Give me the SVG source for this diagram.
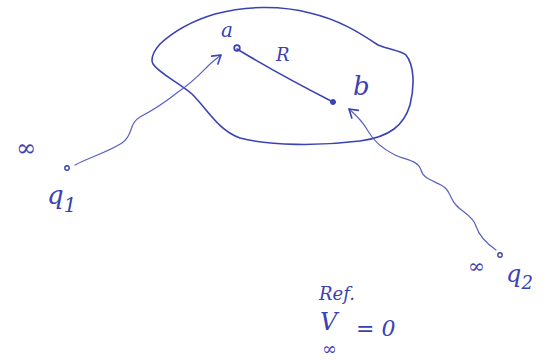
<svg xmlns="http://www.w3.org/2000/svg" width="547" height="360" viewBox="0 0 547 360">
<style>
.ink{fill:none;stroke:#3b42b4;stroke-width:1.6;stroke-linecap:round;stroke-linejoin:round}
.thin{fill:none;stroke:#5a60c4;stroke-width:1.2;stroke-linecap:round}
.t{font-family:"DejaVu Serif",serif;font-style:italic;fill:#3b42b4}
</style>
<defs>
<marker id="ah" viewBox="-10 -6 12 12" refX="0" refY="0" markerWidth="12" markerHeight="12" markerUnits="userSpaceOnUse" orient="auto">
<path d="M-8,-5 L0,0 L-8,5" fill="none" stroke="#3b42b4" stroke-width="1.6" stroke-linecap="round" stroke-linejoin="round"/>
</marker>
</defs>
<rect width="547" height="360" fill="#ffffff"/>
<g id="region">
<path class="ink" d="M160,44 C175,30 195,20 215,14 C245,6 280,5 310,13 C340,20 360,33 378,45 C390,50 400,50 406,55 C414,65 415,85 410,105 C404,125 390,137 360,141 C320,146 270,146 240,138 C218,130 208,110 192,94 C178,82 160,74 153,64 C150,58 153,52 160,44"/>
</g>
<g id="connectors">
<path class="ink" d="M237,49 C260,63 290,80 333,102"/>
<path class="thin" d="M75,165 C88,158 108,152 122,143 C134,135 128,124 140,117 C155,109 167,101 178,92 C192,83 200,74 208,66 C212,62 216,59 221,55" marker-end="url(#ah)"/>
<path class="thin" d="M496,250 C486,243 479,236 476,226 C473,216 462,212 456,205 C449,198 451,190 441,185 C431,180 423,178 421,170 C418,160 405,160 395,155 C381,148 373,140 368,131 C363,122 356,115 349,109" marker-end="url(#ah)"/>
</g>
<g id="point-a">
<circle cx="237" cy="48" r="2.8" fill="none" stroke="#3b42b4" stroke-width="1.8"/>
<text class="t" x="221" y="37" font-size="20">a</text>
</g>
<g id="label-R">
<text class="t" x="276" y="61" font-size="18">R</text>
</g>
<g id="point-b">
<circle cx="333" cy="102" r="2.5" fill="#3b42b4" stroke="#3b42b4" stroke-width="1"/>
<text class="t" x="353" y="95" font-size="26">b</text>
</g>
<g id="q1">
<circle cx="67" cy="168" r="2.2" fill="none" stroke="#3b42b4" stroke-width="1.4"/>
<text class="t" x="16" y="156" font-size="24">∞</text>
<text class="t" x="47" y="204" font-size="26">q<tspan font-size="20" dy="8">1</tspan></text>
</g>
<g id="q2">
<circle cx="500" cy="255" r="2.2" fill="none" stroke="#3b42b4" stroke-width="1.4"/>
<text class="t" x="468" y="273" font-size="20">∞</text>
<text class="t" x="506" y="282" font-size="24">q<tspan font-size="18" dy="7">2</tspan></text>
</g>
<g id="ref">
<text class="t" x="319" y="300" font-size="18">Ref.</text>
<text class="t" x="320" y="330" font-size="24">V</text>
<text class="t" x="322" y="355" font-size="18">∞</text>
<text class="t" x="356" y="336" font-size="22">= 0</text>
</g>
</svg>
